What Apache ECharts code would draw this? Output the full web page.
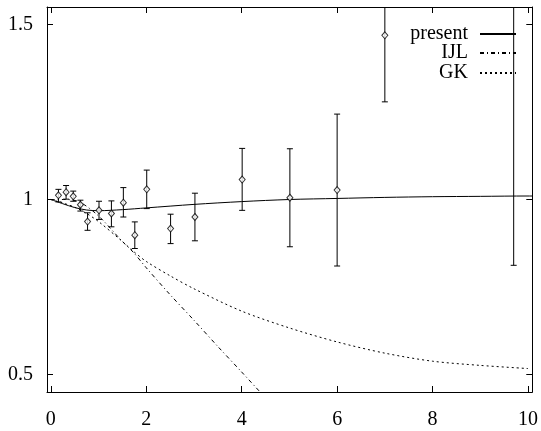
<!DOCTYPE html>
<html>
<head>
<meta charset="utf-8">
<script src="https://cdn.jsdelivr.net/npm/echarts@6/dist/echarts.min.js"></script>
<style>html,body{margin:0;padding:0;background:#fff}#c{width:541px;height:431px}</style>
</head>
<body>
<div id="c"></div>
<script>
// measured points with error bars
const ptX  = [0.16, 0.32, 0.47, 0.62, 0.77, 1.01, 1.27, 1.52, 1.76, 2.01, 2.51, 3.02, 4.01, 5.01, 6.0, 7.0, 9.7];
const ptY  = [1.012, 1.021, 1.009, 0.985, 0.937, 0.969, 0.960, 0.991, 0.898, 1.029, 0.917, 0.950, 1.057, 1.005, 1.027, 1.469, 1.70];
const ptLo = [0.993, 1.001, 0.995, 0.967, 0.912, 0.943, 0.922, 0.950, 0.860, 0.974, 0.874, 0.882, 0.969, 0.865, 0.810, 1.279, 0.812];
const ptHi = [1.029, 1.040, 1.024, 0.998, 0.962, 0.995, 0.996, 1.034, 0.936, 1.084, 0.958, 1.018, 1.146, 1.145, 1.244, 1.659, 2.59];

// curves
const presentX = [0, 0.25, 0.5, 0.75, 1.0, 1.5, 2.0, 3.0, 4.0, 5.0, 6.0, 7.0, 8.0, 9.0, 10.0, 10.1];
const presentY = [1.0, 0.988, 0.977, 0.970, 0.968, 0.971, 0.976, 0.986, 0.994, 1.000, 1.003, 1.006, 1.008, 1.009, 1.010, 1.010];
const ijlX = [0, 0.3, 0.6, 1.0, 1.5, 1.73, 2.0, 2.5, 3.0, 3.5, 4.0, 4.5];
const ijlY = [1.0, 1.0, 0.993, 0.953, 0.880, 0.849, 0.805, 0.728, 0.655, 0.580, 0.507, 0.433];
const gkX = [0, 0.25, 0.5, 0.75, 1.0, 1.5, 1.73, 2.0, 2.5, 3.0, 4.0, 5.0, 6.0, 7.0, 8.0, 9.0, 10.0];
const gkY = [1.0, 0.990, 0.978, 0.960, 0.937, 0.880, 0.852, 0.823, 0.782, 0.745, 0.681, 0.633, 0.593, 0.561, 0.538, 0.526, 0.517];

const xTicks = [0, 2, 4, 6, 8, 10];
const yTicks = [0.5, 1, 1.5];

const zip = (a, b) => a.map((v, i) => [v, b[i]]);
const font = 'Liberation Serif';

const chart = echarts.init(document.getElementById('c'), null, {renderer: 'canvas'});

const axisCommon = {
  type: 'value',
  splitLine: {show: false},
  axisLine: {show: true, onZero: false, lineStyle: {color: '#000', width: 1}},
};

const errBar = {
  type: 'custom',
  clip: true,
  z: 3,
  data: ptX.map((x, i) => [x, ptLo[i], ptHi[i]]),
  encode: {x: 0, y: [1, 2]},
  renderItem: function (params, api) {
    const lo = api.coord([api.value(0), api.value(1)]);
    const hi = api.coord([api.value(0), api.value(2)]);
    const w = 3;
    const st = {stroke: '#000', lineWidth: 1};
    return {
      type: 'group',
      children: [
        {type: 'line', shape: {x1: lo[0], y1: lo[1], x2: hi[0], y2: hi[1]}, style: st},
        {type: 'line', shape: {x1: lo[0] - w, y1: lo[1], x2: lo[0] + w, y2: lo[1]}, style: st},
        {type: 'line', shape: {x1: hi[0] - w, y1: hi[1], x2: hi[0] + w, y2: hi[1]}, style: st}
      ]
    };
  }
};

const legendBase = {
  orient: 'vertical',
  align: 'right',
  itemWidth: 36,
  itemHeight: 12,
  itemStyle: {opacity: 0},
  textStyle: {fontFamily: font, fontSize: 20, color: '#000', padding: [0, 7, 0, 0]},
  selectedMode: false,
  right: 19
};

chart.setOption({
  animation: false,
  backgroundColor: '#fff',
  grid: {left: 47, right: 6, top: 7, bottom: 39, containLabel: false},
  legend: [
    Object.assign({}, legendBase, {data: ['present'], top: 19}),
    Object.assign({}, legendBase, {data: ['IJL'], top: 38}),
    Object.assign({}, legendBase, {data: ['GK'], top: 58})
  ],
  xAxis: [
    Object.assign({}, axisCommon, {
      position: 'bottom', min: -0.08, max: 10.09,
      axisTick: {show: true, inside: true, length: 6, customValues: xTicks, lineStyle: {color: '#000'}},
      axisLabel: {show: true, customValues: xTicks, margin: 18, fontFamily: font, fontSize: 20, color: '#000'}
    }),
    Object.assign({}, axisCommon, {
      position: 'top', min: -0.08, max: 10.09,
      axisTick: {show: true, inside: true, length: 6, customValues: xTicks, lineStyle: {color: '#000'}},
      axisLabel: {show: false}
    })
  ],
  yAxis: [
    Object.assign({}, axisCommon, {
      position: 'left', min: 0.45, max: 1.55,
      axisTick: {show: true, inside: true, length: 6, customValues: yTicks, lineStyle: {color: '#000'}},
      axisLabel: {show: true, customValues: yTicks, margin: 14, fontFamily: font, fontSize: 20, color: '#000'}
    }),
    Object.assign({}, axisCommon, {
      position: 'right', min: 0.45, max: 1.55,
      axisTick: {show: true, inside: true, length: 6, customValues: yTicks, lineStyle: {color: '#000'}},
      axisLabel: {show: false}
    })
  ],
  series: [
    {
      name: 'present', type: 'line', data: zip(presentX, presentY), smooth: 0.3,
      showSymbol: false, symbol: 'none', clip: true, z: 2,
      lineStyle: {color: '#000', width: 1, type: 'solid'}, itemStyle: {color: '#000'}
    },
    {
      name: 'IJL', type: 'line', data: zip(ijlX, ijlY), smooth: 0.3,
      showSymbol: false, symbol: 'none', clip: true, z: 2,
      lineStyle: {color: '#000', width: 1, type: [4, 3, 1, 3]}, itemStyle: {color: '#000'}
    },
    {
      name: 'GK', type: 'line', data: zip(gkX, gkY), smooth: 0.3,
      showSymbol: false, symbol: 'none', clip: true, z: 2,
      lineStyle: {color: '#000', width: 1, type: [2, 3]}, itemStyle: {color: '#000'}
    },
    errBar,
    {
      name: 'data', type: 'scatter', data: zip(ptX, ptY), clip: true, z: 4,
      symbol: 'diamond', symbolSize: [6, 7],
      itemStyle: {color: '#fff', borderColor: '#000', borderWidth: 1}
    }
  ]
});
</script>
</body>
</html>
